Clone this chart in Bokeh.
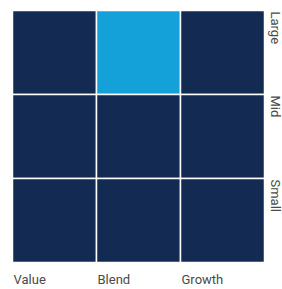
from bokeh.plotting import figure
from bokeh.models import Range1d, ColumnDataSource
from bokeh.core.properties import value
from bokeh.embed import file_html
from bokeh.resources import INLINE
import math

styles = ["Value", "Blend", "Growth"]
sizes = ["Large", "Mid", "Small"]
# 1 = fund's style box position
weights = [
    [0, 1, 0],  # Large
    [0, 0, 0],  # Mid
    [0, 0, 0],  # Small
]

NAVY = "#132a52"
BLUE = "#14a1d9"
TXT = "#4a4a4a"
FONT = value("Roboto")

W, H = 282, 289
cell = 84.0
x0, y0 = 12.0, 10.0  # grid offset in px inside figure

xs, ys, cols = [], [], []
for r, s in enumerate(sizes):
    for c, st in enumerate(styles):
        xs.append(c + 0.5)
        ys.append(len(sizes) - r - 0.5)
        cols.append(BLUE if weights[r][c] else NAVY)

p = figure(width=W, height=H, output_backend="svg", toolbar_location=None,
           x_range=Range1d(-x0 / cell, (W - x0) / cell),
           y_range=Range1d(3 - (H - y0) / cell, 3 + y0 / cell),
           min_border=0, outline_line_color=None)
p.axis.visible = False
p.grid.visible = False
p.background_fill_color = "white"
p.border_fill_color = "white"

p.rect(x="x", y="y", width=1, height=1, fill_color="c", line_color="white",
       line_width=1.5, source=ColumnDataSource(dict(x=xs, y=ys, c=cols)))

# bottom labels
p.text(x=[i + 1 / cell for i in range(len(styles))],
       y=[-(279 - 262) / cell] * len(styles), text=styles,
       text_font=FONT, text_font_size="13px", text_color=TXT,
       text_align="left", text_baseline="middle")

# right labels (rotated clockwise)
p.text(x=[3 + (274.5 - 264) / cell] * len(sizes),
       y=[len(sizes) - r - 1 / cell for r in range(len(sizes))], text=sizes,
       angle=-math.pi / 2,
       text_font=FONT, text_font_size="13px", text_color=TXT,
       text_align="left", text_baseline="alphabetic")

open("out.html", "w").write(file_html(p, INLINE))
